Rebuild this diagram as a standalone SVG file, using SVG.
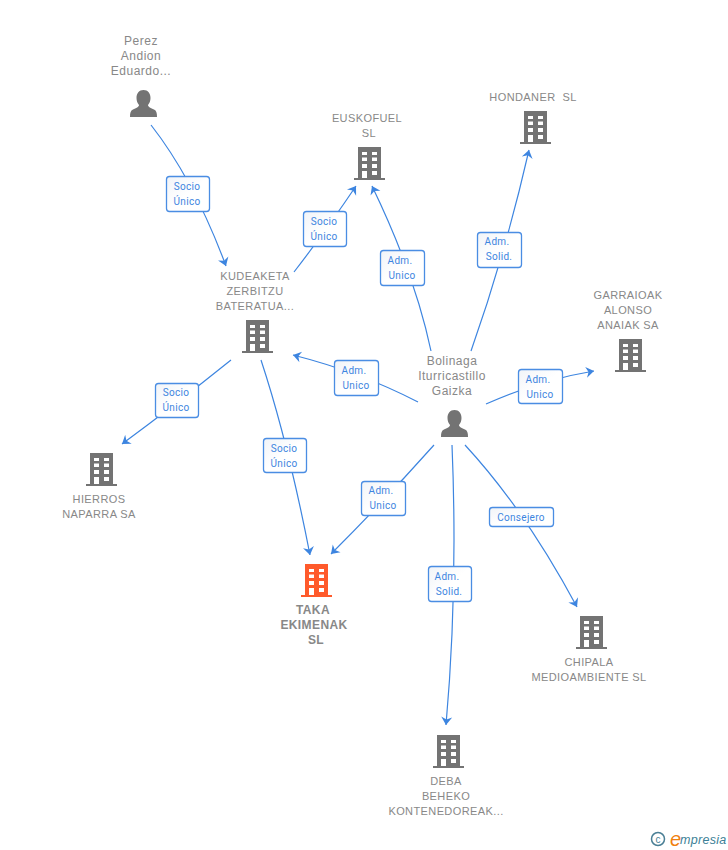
<svg xmlns="http://www.w3.org/2000/svg" width="728" height="850" viewBox="0 0 728 850">
<style>
text{font-family:"Liberation Sans",Arial,sans-serif}
.n{font-size:11px;letter-spacing:.4px;fill:#888;text-anchor:middle}
.m{font-size:12px;letter-spacing:.5px;fill:#888;text-anchor:middle}
.nb{font-size:12px;font-weight:bold;letter-spacing:.4px;fill:#888;text-anchor:middle}
.e{fill:none;stroke:#3d85e0;stroke-width:1.200;marker-end:url(#a)}
.b{fill:url(#g);stroke:#4a8de3;stroke-width:1.300}
.t{font-family:Roboto,"Liberation Sans",sans-serif;font-size:10px;letter-spacing:.3px;fill:#3d85e0;text-anchor:middle}
</style>
<defs>
<linearGradient id="g" x1="0" y1="0" x2="1" y2="1"><stop offset="0" stop-color="#f1f4f8"/><stop offset="0.5" stop-color="#fff"/></linearGradient>
<marker id="a" markerUnits="userSpaceOnUse" markerWidth="14" markerHeight="14" refX="8" refY="5.500" orient="auto" overflow="visible"><path d="M0 0L8 5.500L0 11L2.500 5.500Z" fill="#3d85e0"/></marker>
<g id="bld"><path d="M5 0H28V31H32V33H1V31H5ZM9 5V8H14V5ZM19 5V8H24V5ZM9 10.500V14H14V10.500ZM19 10.500V14H24V10.500ZM9 17V21H14V17ZM19 17V21H24V17ZM9 24V31H14V24ZM19 24V28H24V24Z" fill-rule="evenodd"/></g>
<g id="per"><path d="M13.500 0C18 0 20.500 3.500 20.500 8C20.500 11 19.500 13 18 15C18 17 21 18 24 19.500C26.500 20.700 27 23 27 27H0C0 23 .5 20.700 3 19.500C6 18 9 17 9 15C7.500 13 6.500 11 6.500 8C6.500 3.500 9 0 13.500 0Z"/></g>
</defs>
<g id="connectors">
<path class="e" d="M151 125Q194 180 226 266"/>
<path class="e" d="M294 272Q325 232 356 186"/>
<path class="e" d="M431 351Q415 275 372 186"/>
<path class="e" d="M471 351Q505 255 529 150"/>
<path class="e" d="M486 404Q540 380 594 371"/>
<path class="e" d="M418 402Q360 372 293 355"/>
<path class="e" d="M231 360Q175 405 122 444"/>
<path class="e" d="M261 360Q288 442 310 555"/>
<path class="e" d="M434 445Q385 500 331 554"/>
<path class="e" d="M452 445Q458 590 446 725"/>
<path class="e" d="M465 445Q525 510 577 607"/>
</g>
<g id="edge-labels">
<g><rect class="b" x="166.500" y="176.500" width="43" height="35" rx="3"/><text class="t" x="187" y="190">Socio</text><text class="t" x="187" y="205">Único</text></g>
<g><rect class="b" x="303.500" y="211.500" width="43" height="35" rx="3"/><text class="t" x="324" y="225">Socio</text><text class="t" x="324" y="240">Único</text></g>
<g><rect class="b" x="380.500" y="250.500" width="44" height="35" rx="3"/><text class="t" x="400" y="264">Adm.</text><text class="t" x="402" y="279">Unico</text></g>
<g><rect class="b" x="477.500" y="232.500" width="44" height="35" rx="3"/><text class="t" x="497" y="245">Adm.</text><text class="t" x="499" y="260">Solid.</text></g>
<g><rect class="b" x="518.500" y="369.500" width="44" height="34" rx="3"/><text class="t" x="538" y="383">Adm.</text><text class="t" x="540" y="398">Unico</text></g>
<g><rect class="b" x="334.500" y="360.500" width="44" height="35" rx="3"/><text class="t" x="354" y="374">Adm.</text><text class="t" x="356" y="389">Unico</text></g>
<g><rect class="b" x="155.500" y="383.500" width="43" height="34" rx="3"/><text class="t" x="176" y="396">Socio</text><text class="t" x="176" y="411">Único</text></g>
<g><rect class="b" x="263.500" y="438.500" width="43" height="34" rx="3"/><text class="t" x="284" y="452">Socio</text><text class="t" x="284" y="467">Único</text></g>
<g><rect class="b" x="361.500" y="481.500" width="44" height="34" rx="3"/><text class="t" x="381" y="494">Adm.</text><text class="t" x="383" y="509">Unico</text></g>
<g><rect class="b" x="428.500" y="566.500" width="43" height="35" rx="3"/><text class="t" x="447" y="580">Adm.</text><text class="t" x="449" y="595">Solid.</text></g>
<g><rect class="b" x="489.500" y="507.500" width="64" height="19" rx="3"/><text class="t" x="521" y="521">Consejero</text></g>
</g>
<g id="perez"><text class="m" x="141" y="45">Perez</text><text class="m" x="141" y="60">Andion</text><text class="m" x="141" y="75">Eduardo...</text><use href="#per" x="130" y="90" fill="#737373"/></g>
<g id="euskofuel"><text class="n" x="367" y="122">EUSKOFUEL</text><text class="n" x="369" y="137">SL</text><use href="#bld" x="353" y="147" fill="#737373"/></g>
<g id="hondaner"><text class="n" x="533" y="101" xml:space="preserve">HONDANER  SL</text><use href="#bld" x="519" y="111" fill="#737373"/></g>
<g id="garraioak"><text class="n" x="628" y="299">GARRAIOAK</text><text class="n" x="628" y="314">ALONSO</text><text class="n" x="628" y="329">ANAIAK SA</text><use href="#bld" x="614" y="339" fill="#737373"/></g>
<g id="kudeaketa"><text class="n" x="255" y="280">KUDEAKETA</text><text class="n" x="255" y="295">ZERBITZU</text><text class="n" x="255" y="310">BATERATUA...</text><use href="#bld" x="241" y="320" fill="#737373"/></g>
<g id="bolinaga"><text class="m" x="452" y="365">Bolinaga</text><text class="m" x="452" y="380">Iturricastillo</text><text class="m" x="452" y="395">Gaizka</text><use href="#per" x="441" y="410" fill="#737373"/></g>
<g id="hierros"><use href="#bld" x="85" y="453" fill="#737373"/><text class="n" x="99" y="503">HIERROS</text><text class="n" x="99" y="518">NAPARRA SA</text></g>
<g id="taka"><use href="#bld" x="300" y="564" fill="#ff5a2b"/><text class="nb" x="313" y="614">TAKA</text><text class="nb" x="314" y="629">EKIMENAK</text><text class="nb" x="316" y="644">SL</text></g>
<g id="chipala"><use href="#bld" x="575" y="616" fill="#737373"/><text class="n" x="589" y="666">CHIPALA</text><text class="n" x="589" y="681">MEDIOAMBIENTE SL</text></g>
<g id="deba"><use href="#bld" x="432" y="735" fill="#737373"/><text class="n" x="446" y="785">DEBA</text><text class="n" x="446" y="800">BEHEKO</text><text class="n" x="446" y="815">KONTENEDOREAK...</text></g>
<g id="logo"><circle cx="658" cy="839" r="6.500" fill="none" stroke="#4a7f95" stroke-width="1.500"/><text x="658" y="842.500" font-size="10" fill="#4a7f95" text-anchor="middle">c</text><text x="670" y="846" font-size="20" font-family="Liberation Serif" font-style="italic" fill="#f08010">e</text><text x="680" y="844" font-size="12.500" font-style="italic" letter-spacing=".3" fill="#3c7f96">mpresia</text></g>
</svg>
